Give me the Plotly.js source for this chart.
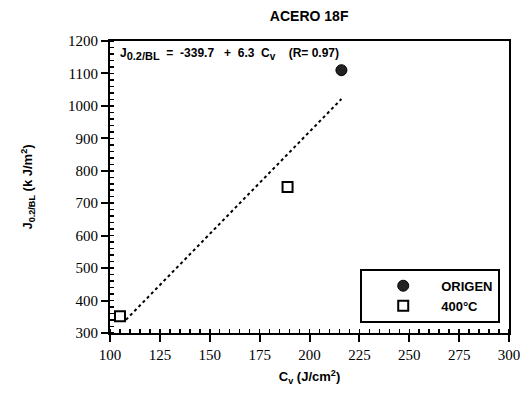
<!DOCTYPE html>
<html><head><meta charset="utf-8">
<script src="https://cdn.plot.ly/plotly-3.0.1.min.js"></script>
<style>html,body{margin:0;padding:0;background:#fff}</style>
</head><body>
<div id="chart" style="width:524px;height:394px"></div>
<script>
const origenX = [216];
const origenY = [1110];
const t400X = [105, 189];
const t400Y = [352, 750];
const fitX = [108, 216];
const fitIntercept = -339.7;
const fitSlope = 6.3;
const fitY = fitX.map(x => fitIntercept + fitSlope * x);

const sans = 'Liberation Sans, Arial, sans-serif';
const traces = [
  {x: fitX, y: fitY, mode: 'lines', line: {color: '#000', dash: 'dot', width: 2}, showlegend: false, hoverinfo: 'skip'},
  {x: origenX, y: origenY, mode: 'markers', name: '<b>ORIGEN</b>',
   marker: {symbol: 'circle', size: 11, color: '#222', line: {color: '#000', width: 1}}},
  {x: t400X, y: t400Y, mode: 'markers', name: '<b>400°C</b>',
   marker: {symbol: 'square-open', size: 10, color: '#000', line: {color: '#000', width: 2}}}
];
const axisCommon = {
  showline: true, linecolor: '#000', linewidth: 2, mirror: true,
  ticks: 'outside', ticklen: 7, tickwidth: 2, tickcolor: '#000',
  showgrid: false, zeroline: false,
  tickfont: {family: 'Times New Roman, Liberation Serif, serif', size: 15, color: '#000'}
};
const layout = {
  width: 524, height: 394,
  margin: {l: 110, r: 15, t: 41, b: 61},
  paper_bgcolor: '#fff', plot_bgcolor: '#fff',
  title: {text: '<b>ACERO 18F</b>', x: 0.59, xanchor: 'center', y: 0.96, yanchor: 'middle',
          font: {family: sans, size: 14, color: '#000'}},
  xaxis: Object.assign({}, axisCommon, {
    range: [100, 300], dtick: 25, tick0: 100,
    minor: {dtick: 5, ticks: 'inside', ticklen: 4, tickwidth: 1.5, tickcolor: '#000'},
    title: {text: '<b>C<sub>v</sub> (J/cm<sup>2</sup>)</b>', standoff: 10,
            font: {family: sans, size: 13, color: '#000'}}
  }),
  yaxis: Object.assign({}, axisCommon, {
    range: [300, 1200], dtick: 100, tick0: 300,
    minor: {dtick: 20, ticks: 'inside', ticklen: 4, tickwidth: 1.5, tickcolor: '#000'},
    title: {text: '<b>J<sub>0.2/BL</sub> (k J/m<sup>2</sup>)</b>', standoff: 32,
            font: {family: sans, size: 13, color: '#000'}}
  }),
  legend: {x: 0.978, xanchor: 'right', y: 0.035, yanchor: 'bottom',
           bordercolor: '#000', borderwidth: 2, bgcolor: '#fff',
           font: {family: sans, size: 13, color: '#000'},
           indentation: 3, itemwidth: 66, tracegroupgap: 0},
  annotations: [{
    xref: 'paper', yref: 'paper', x: 0.02, y: 0.99, xanchor: 'left', yanchor: 'top',
    text: '<b>J<sub><span style="font-size:11px">0.2/BL</span></sub>  =  -339.7   +  6.3  C<sub><span style="font-size:10px">v</span></sub>    (R= 0.97)</b>',
    showarrow: false, font: {family: sans, size: 12, color: '#000'}
  }],
  showlegend: true
};
Plotly.newPlot('chart', traces, layout, {displayModeBar: false, staticPlot: true});
</script>
</body></html>
